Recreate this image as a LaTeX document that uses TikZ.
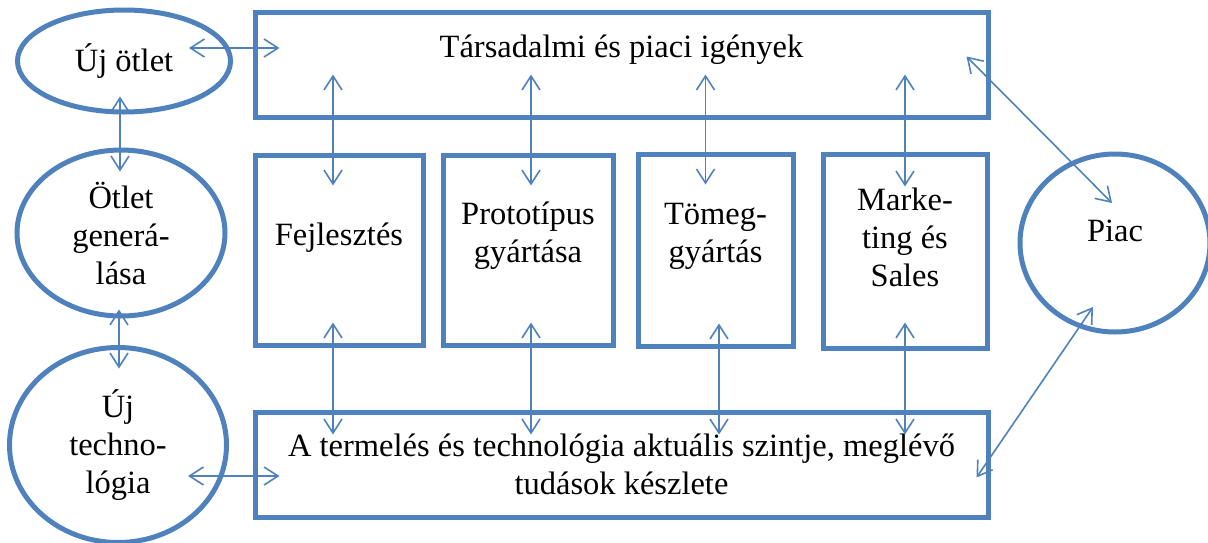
\documentclass[tikz,border=0pt]{standalone}
\usepackage{fontspec}
\setmainfont{Liberation Serif}
\usetikzlibrary{shapes.geometric,arrows.meta}
\definecolor{officeblue}{HTML}{4F81BD}
\begin{document}
\begin{tikzpicture}[x=1pt,y=-1pt,
    felirat/.style={align=center,font=\fontsize{32.5}{38}\selectfont},
    blokk/.style={rectangle,draw=officeblue,line width=5pt,inner sep=0pt,felirat},
    kor/.style={ellipse,draw=officeblue,line width=5pt,inner sep=0pt,felirat},
    nyil/.style={officeblue,line width=1.6pt,
      {Straight Barb[length=14pt,width=18pt]}-{Straight Barb[length=14pt,width=18pt]}}]
    \useasboundingbox (0,0) rectangle (1208,542);
    \node[blokk,minimum width=733pt,minimum height=105pt,
      label={[felirat,yshift=15pt]center:Társadalmi és piaci igények}] (tarsi) at (621.5,64.5) {};
    \node[blokk,minimum width=168pt,minimum height=190pt,
      label={[felirat,yshift=12pt]center:Fejlesztés}] (fejl) at (339,250) {};
    \node[blokk,minimum width=170pt,minimum height=190pt,
      label={[felirat,yshift=14pt]center:{Prototípus\\gyártása}}] (proto) at (528,250) {};
    \node[blokk,minimum width=155pt,minimum height=192pt,
      label={[felirat,yshift=14pt]center:{Tömeg-\\gyártás}}] (tomeg) at (715.5,250) {};
    \node[blokk,minimum width=164pt,minimum height=194pt,
      label={[felirat,yshift=14pt]center:{Marke-\\ting és\\Sales}}] (mark) at (905,251) {};
    \node[blokk,minimum width=733pt,minimum height=105pt] (termel) at (621.5,464.5)
      {A termelés és technológia aktuális szintje, meglévő\\tudások készlete};
    \node[kor,minimum width=213pt,minimum height=102pt] (ujotlet) at (124,61) {Új ötlet};
    \node[kor,minimum width=208pt,minimum height=166pt] (gener) at (121,233) {Ötlet\\generá-\\lása};
    \node[kor,minimum width=217pt,minimum height=195pt] (ujtech) at (118,445) {Új\\techno-\\lógia};
    \node[kor,minimum width=190pt,minimum height=178pt,
      label={[felirat,yshift=12pt]center:Piac}] (piac) at (1115,243) {};
    \draw[nyil] ([xshift=65pt,yshift=13pt]ujotlet.center) -- ([xshift=27pt,yshift=16.5pt]tarsi.west);
    \draw[nyil] ([xshift=-4pt,yshift=18pt]ujotlet.south) -- ([xshift=-1pt,yshift=-24pt]gener.north);
    \draw[nyil] ([xshift=-2pt,yshift=9pt]gener.south) -- ([xshift=1pt,yshift=-23.5pt]ujtech.north);
    \draw[nyil] ([xshift=70pt,yshift=-31pt]ujtech.center) -- ([xshift=27pt,yshift=-11.5pt]termel.west);
    \draw[nyil] ([xshift=-6pt,yshift=45pt]tarsi.south -| fejl) -- ([xshift=-6pt,yshift=-33pt]fejl.north);
    \draw[nyil] ([xshift=3pt,yshift=45pt]tarsi.south -| proto) -- ([xshift=3pt,yshift=-33pt]proto.north);
    \draw[nyil] ([xshift=-10pt,yshift=45pt]tarsi.south -| tomeg) -- ([xshift=-10pt,yshift=-33pt]tomeg.north);
    \draw[nyil] ([yshift=45pt]tarsi.south -| mark) -- ([yshift=-35pt]mark.north);
    \draw[nyil] ([xshift=-6pt,yshift=25pt]fejl.south) -- ([xshift=-6pt,yshift=-25pt]termel.north -| fejl);
    \draw[nyil] ([xshift=3pt,yshift=25pt]proto.south) -- ([xshift=3pt,yshift=-25pt]termel.north -| proto);
    \draw[nyil] ([xshift=3.5pt,yshift=25pt]tomeg.south) -- ([xshift=3.5pt,yshift=-25pt]termel.north -| tomeg);
    \draw[nyil] ([yshift=28pt]mark.south) -- ([yshift=-25pt]termel.north -| mark);
    \draw[nyil] ([xshift=-24pt,yshift=-47pt]tarsi.north east) -- ([xshift=-3pt,yshift=40pt]piac.center);
    \draw[nyil] ([xshift=-22pt,yshift=-64pt]piac.center) -- ([xshift=-14pt,yshift=42pt]termel.south east);
  \end{tikzpicture}
\end{document}
